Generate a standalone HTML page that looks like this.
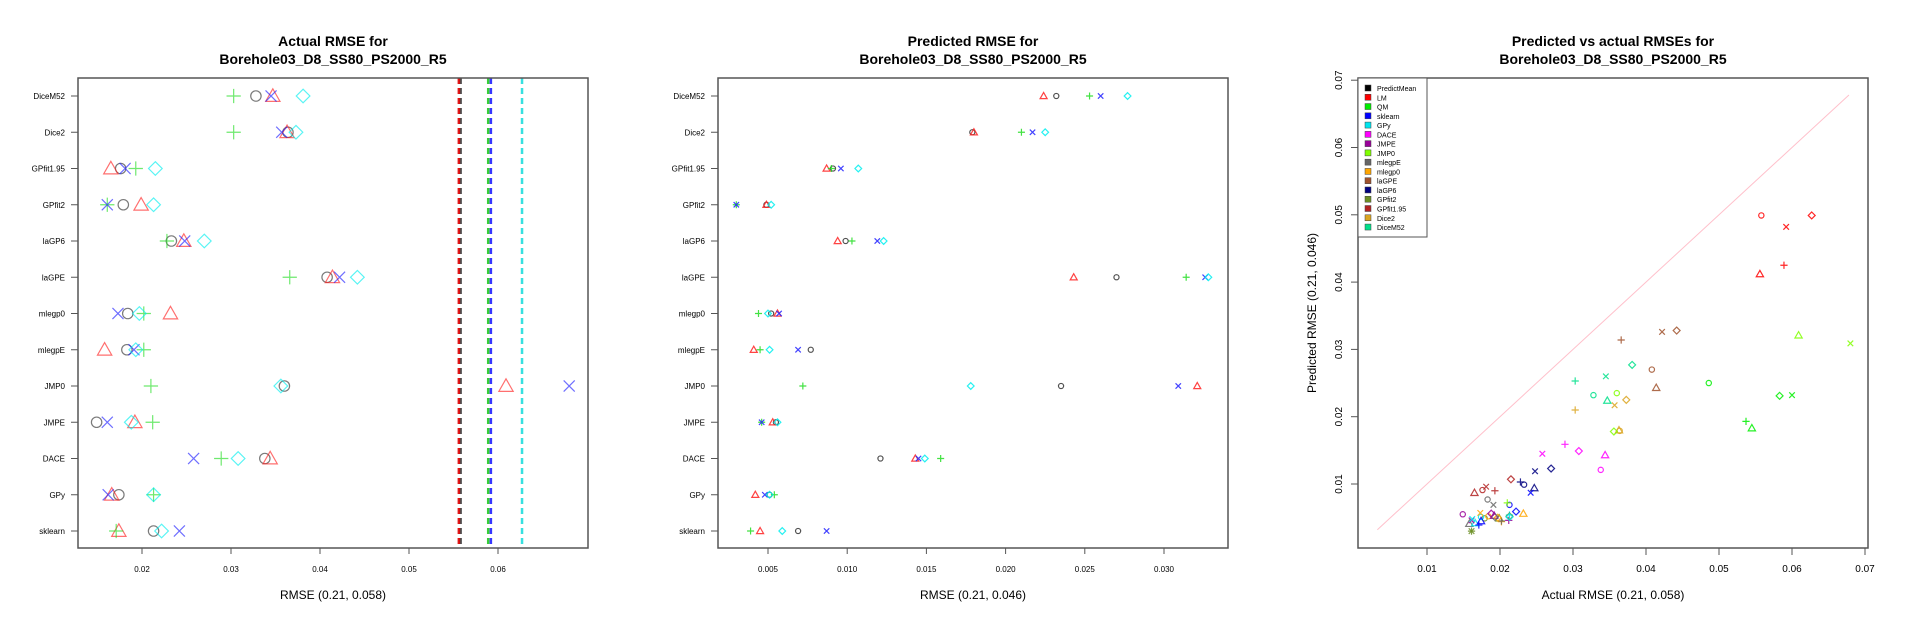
<!DOCTYPE html>
<html><head><meta charset="utf-8"><style>
html,body{margin:0;padding:0;background:#fff;}
svg{display:block;font-family:"Liberation Sans",sans-serif;}
</style></head><body>
<svg id="chart" width="1920" height="640" viewBox="0 0 1920 640">
<rect width="1920" height="640" fill="#fff"/>
<g id="p1"></g>
<g id="p2"></g>
<g id="p3"></g>
</svg>
<script>
const categories = ["DiceM52","Dice2","GPfit1.95","GPfit2","laGP6","laGPE","mlegp0","mlegpE","JMP0","JMPE","DACE","GPy","sklearn"];
const actualCircle  = [0.0328,0.0364,0.0176,0.0179,0.0233,0.0408,0.0184,0.0183,0.0360,0.0149,0.0338,0.0174,0.0213];
const actualTri     = [0.0347,0.0363,0.0165,0.0199,0.0247,0.0414,0.0232,0.0158,0.0609,0.0192,0.0344,0.0166,0.0174];
const actualPlus    = [0.0303,0.0303,0.0193,0.0161,0.0228,0.0366,0.0202,0.0202,0.0210,0.0212,0.0289,0.0213,0.0171];
const actualCross   = [0.0345,0.0357,0.0181,0.0161,0.0248,0.0422,0.0173,0.0191,0.0680,0.0161,0.0258,0.0162,0.0242];
const actualDiamond = [0.0381,0.0373,0.0215,0.0213,0.0270,0.0442,0.0197,0.0193,0.0356,0.0188,0.0308,0.0213,0.0222];
const predCircle  = [0.0232,0.0179,0.0091,0.0049,0.0099,0.0270,0.0052,0.0077,0.0235,0.0055,0.0121,0.0051,0.0069];
const predTri     = [0.0224,0.0180,0.0087,0.0049,0.0094,0.0243,0.0056,0.0041,0.0321,0.0053,0.0143,0.0042,0.0045];
const predPlus    = [0.0253,0.0210,0.0090,0.0030,0.0103,0.0314,0.0044,0.0045,0.0072,0.0046,0.0159,0.0054,0.0039];
const predCross   = [0.0260,0.0217,0.0096,0.0030,0.0119,0.0326,0.0057,0.0069,0.0309,0.0046,0.0145,0.0048,0.0087];
const predDiamond = [0.0277,0.0225,0.0107,0.0052,0.0123,0.0328,0.0050,0.0051,0.0178,0.0056,0.0149,0.0051,0.0059];
// LM and QM reference values (order: circle, tri, plus, cross, diamond)
const lmActual = [0.0558,0.0556,0.0589,0.0592,0.0627];
const lmPred   = [0.0499,0.0412,0.0425,0.0482,0.0499];
const qmActual = [0.0486,0.0545,0.0537,0.0600,0.0583];
const qmPred   = [0.0250,0.0183,0.0193,0.0232,0.0231];
const p1Ticks = [0.02,0.03,0.04,0.05,0.06];
const p1TickLabels = ["0.02","0.03","0.04","0.05","0.06"];
const p2Ticks = [0.005,0.010,0.015,0.020,0.025,0.030];
const p2TickLabels = ["0.005","0.010","0.015","0.020","0.025","0.030"];
const p3Ticks = [0.01,0.02,0.03,0.04,0.05,0.06,0.07];
const p3TickLabels = ["0.01","0.02","0.03","0.04","0.05","0.06","0.07"];
const legendNames = ["PredictMean","LM","QM","sklearn","GPy","DACE","JMPE","JMP0","mlegpE","mlegp0","laGPE","laGP6","GPfit2","GPfit1.95","Dice2","DiceM52"];
const legendColors = ["#000000","#ff0000","#00ee00","#0000ff","#00e5ee","#ff00ff","#990099","#80ff00","#666666","#ffa500","#a0522d","#000080","#6b8e23","#b22222","#daa520","#00e08a"];

const NS="http://www.w3.org/2000/svg";
function mk(parent,tag,attrs,text){const e=document.createElementNS(NS,tag);for(const k in attrs)e.setAttribute(k,attrs[k]);if(text!==undefined)e.textContent=text;parent.appendChild(e);return e;}
function marker(g,shape,cx,cy,s,color,op,name){
  let e;
  if(shape==="circle"){e=mk(g,"circle",{cx:cx,cy:cy,r:s*0.8,fill:"none",stroke:color,"stroke-width":1.2,opacity:op});}
  else if(shape==="tri"){const h=s*1.1;e=mk(g,"polygon",{points:`${cx},${cy-h} ${cx-h},${cy+h*0.75} ${cx+h},${cy+h*0.75}`,fill:"none",stroke:color,"stroke-width":1.2,opacity:op});}
  else if(shape==="plus"){e=mk(g,"path",{d:`M${cx-s*1.1},${cy}H${cx+s*1.1}M${cx},${cy-s*1.1}V${cy+s*1.1}`,stroke:color,"stroke-width":1.2,fill:"none",opacity:op});}
  else if(shape==="cross"){const a=s*0.85;e=mk(g,"path",{d:`M${cx-a},${cy-a}L${cx+a},${cy+a}M${cx-a},${cy+a}L${cx+a},${cy-a}`,stroke:color,"stroke-width":1.2,fill:"none",opacity:op});}
  else {const a=s*1.05;e=mk(g,"polygon",{points:`${cx},${cy-a} ${cx+a},${cy} ${cx},${cy+a} ${cx-a},${cy}`,fill:"none",stroke:color,"stroke-width":1.2,opacity:op});}
  
  
}
const shapes=["circle","tri","plus","cross","diamond"];
const shapeColors=["#333333","#ff2222","#22dd22","#2222ff","#00eeee"];
const actualSeries=[actualCircle,actualTri,actualPlus,actualCross,actualDiamond];
const predSeries=[predCircle,predTri,predPlus,predCross,predDiamond];
const TOP=78,BOT=548;
function rowY(i){return 96+i*36.25;}

function box(g,l,r){const e=mk(g,"rect",{x:l,y:TOP,width:r-l,height:BOT-TOP,fill:"none",stroke:"#555","stroke-width":1.5});
  
  }
function title(g,cx,l1){
  const t1=mk(g,"text",{x:cx,y:46,"text-anchor":"middle","font-size":14,"font-weight":"bold",fill:"#000"},l1);
  
  
  const t2=mk(g,"text",{x:cx,y:64,"text-anchor":"middle","font-size":14,"font-weight":"bold",fill:"#000"},"Borehole03_D8_SS80_PS2000_R5");
  
  
}
function dotPanel(g,l,r,xs,ticks,labels,series,size,op,xtitle,titleText){
  box(g,l,r);
  title(g,(l+r)/2,titleText);
  categories.forEach((c,i)=>{
    const y=rowY(i);
    mk(g,"line",{x1:l-7,x2:l,y1:y,y2:y,stroke:"#555","stroke-width":1});
    const t=mk(g,"text",{x:l-13,y:y+3,"text-anchor":"end","font-size":8,fill:"#000"},c);
    
    
  });
  ticks.forEach((v,i)=>{
    const x=xs(v);
    mk(g,"line",{x1:x,x2:x,y1:BOT,y2:BOT+6,stroke:"#555","stroke-width":1});
    const t=mk(g,"text",{x:x,y:572,"text-anchor":"middle","font-size":8,fill:"#000"},labels[i]);
    
    
  });
  const at=mk(g,"text",{x:(l+r)/2,y:599,"text-anchor":"middle","font-size":12,fill:"#000"},xtitle);
  
  
  series.forEach((arr,si)=>{
    arr.forEach((v,i)=>{
      const x=xs(v);
      if(x<l||x>r)return;
      marker(g,shapes[si],x,rowY(i),size,shapeColors[si],op,'point-'+shapes[si]);
    });
  });
}
// Panel 1
const x1=v=>142+(v-0.02)*8900;
const g1=document.getElementById("p1");
const lineCols=["#222222","#dd0000","#22cc22","#2222ff","#22dddd"];
[0,2,3,4,1].forEach(si=>{
  const x=x1(lmActual[si]);
  const ln=mk(g1,"line",{x1:x,x2:x,y1:TOP,y2:BOT,stroke:lineCols[si],"stroke-width":2.5,"stroke-dasharray":"6,4",opacity:si===0?0.8:0.9});
  
  
});
dotPanel(g1,78,588,x1,p1Ticks,p1TickLabels,actualSeries,6.5,0.65,"RMSE (0.21, 0.058)","Actual RMSE for");
// Panel 2
const x2=v=>768+(v-0.005)*15840;
const g2=document.getElementById("p2");
dotPanel(g2,718,1228,x2,p2Ticks,p2TickLabels,predSeries,3.2,0.85,"RMSE (0.21, 0.046)","Predicted RMSE for");
// Panel 3
const g3=document.getElementById("p3");
const x3=v=>1427+(v-0.01)*7300;
const y3=v=>484-(v-0.01)*6730;
const L3=1358,R3=1868;
box(g3,L3,R3);
title(g3,(L3+R3)/2,"Predicted vs actual RMSEs for");
const diag=mk(g3,"line",{x1:x3(0.0032),y1:y3(0.0032),x2:x3(0.0678),y2:y3(0.0678),stroke:"#ffc0cb","stroke-width":1});


p3Ticks.forEach((v,i)=>{
  const x=x3(v);
  mk(g3,"line",{x1:x,x2:x,y1:BOT,y2:BOT+7,stroke:"#555","stroke-width":1});
  const t=mk(g3,"text",{x:x,y:572,"text-anchor":"middle","font-size":10,fill:"#000"},p3TickLabels[i]);
  
  
  const y=y3(v);
  mk(g3,"line",{x1:L3-7,x2:L3,y1:y,y2:y,stroke:"#555","stroke-width":1});
  const ty=mk(g3,"text",{x:1342,y:y,"text-anchor":"middle","font-size":10,fill:"#000",transform:`rotate(-90 1342 ${y})`},p3TickLabels[i]);
  
  
});
const xt3=mk(g3,"text",{x:(L3+R3)/2,y:599,"text-anchor":"middle","font-size":12,fill:"#000"},"Actual RMSE (0.21, 0.058)");


const yt3=mk(g3,"text",{x:1316,y:313,"text-anchor":"middle","font-size":12,fill:"#000",transform:"rotate(-90 1316 313)"},"Predicted RMSE (0.21, 0.046)");


function p3pt(ax,py,si,color){
  const x=x3(ax),y=y3(py);
  if(x<L3||x>R3||y<TOP||y>BOT)return;
  marker(g3,shapes[si],x,y,3.3,color,0.85,'scatter-point');
}
for(let si=0;si<5;si++){
  p3pt(lmActual[si],lmPred[si],si,legendColors[1]);
  p3pt(qmActual[si],qmPred[si],si,legendColors[2]);
  categories.forEach((c,i)=>{
    const ci=legendNames.indexOf(c);
    p3pt(actualSeries[si][i],predSeries[si][i],si,legendColors[ci]);
  });
}
// legend
const lg=mk(g3,"g",{});


mk(lg,"rect",{x:L3,y:TOP,width:69,height:159,fill:"#fff",stroke:"#555","stroke-width":1});
legendNames.forEach((n,i)=>{
  const y=88+i*9.27;
  const e=mk(lg,"g",{});
  
  
  mk(e,"rect",{x:1365,y:y-3,width:6,height:6,fill:legendColors[i],stroke:"#444","stroke-width":0.5});
  mk(e,"text",{x:1377,y:y+3,"font-size":7,fill:"#000"},n);
});
</script>
</body></html>
